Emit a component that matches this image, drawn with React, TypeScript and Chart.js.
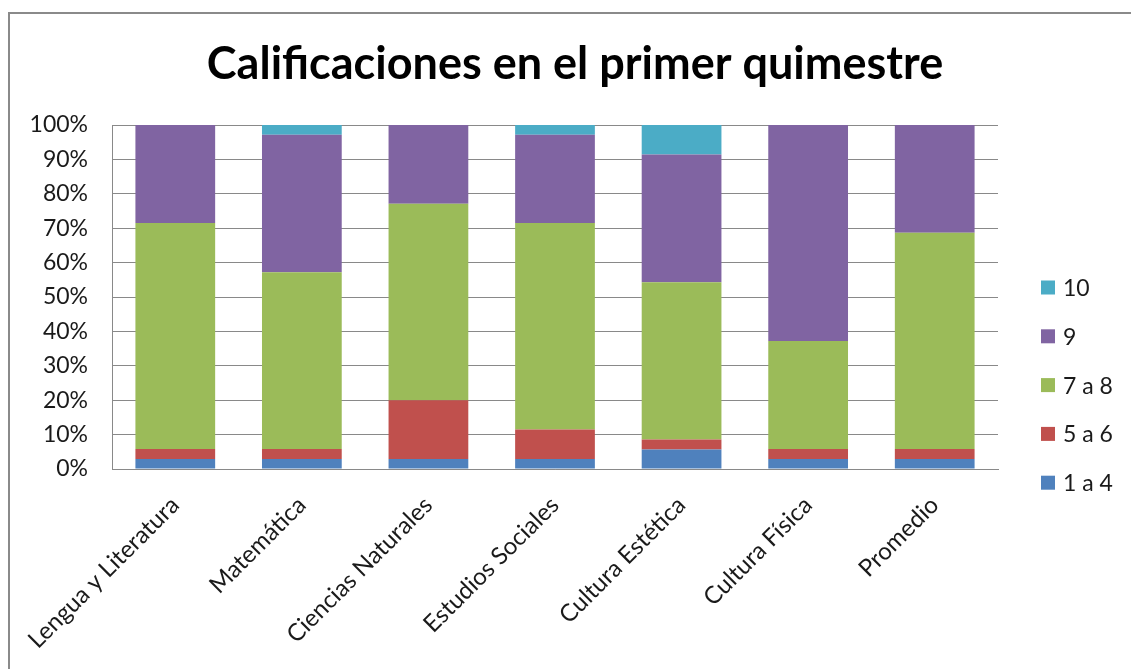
import React, { useEffect, useRef } from 'react';
import { Chart, registerables } from 'chart.js';

Chart.register(...registerables);

const categories = [
  'Lengua y Literatura',
  'Matemática',
  'Ciencias Naturales',
  'Estudios Sociales',
  'Cultura Estética',
  'Cultura Física',
  'Promedio',
];

const seriesLabels = ['1 a 4', '5 a 6', '7 a 8', '9', '10'];
const s1a4 = [2.9, 2.9, 2.9, 2.9, 5.7, 2.9, 2.9];
const s5a6 = [2.9, 2.9, 17.1, 8.6, 2.9, 2.9, 2.9];
const s7a8 = [65.7, 51.4, 57.1, 60.0, 45.7, 31.4, 62.9];
const s9 = [28.5, 40.0, 22.9, 25.7, 37.1, 62.8, 31.3];
const s10 = [0, 2.8, 0, 2.8, 8.6, 0, 0];

const yTicks = [0, 10, 20, 30, 40, 50, 60, 70, 80, 90, 100];

const colors = ['#4F81BD', '#C0504D', '#9BBB59', '#8064A2', '#4BACC6'];
const FONT = 'Lato';

const legendPlugin = {
  id: 'sideLegend',
  afterDraw(chart: any) {
    const ctx = chart.ctx;
    const ds = chart.data.datasets;
    ctx.save();
    ctx.font = `23px ${FONT}`;
    ctx.textBaseline = 'middle';
    ctx.textAlign = 'left';
    const n = ds.length;
    for (let k = 0; k < n; k++) {
      const d = ds[n - 1 - k];
      const cy = 287.5 + k * 48.8;
      ctx.fillStyle = d.backgroundColor;
      ctx.fillRect(1041, cy - 7, 14, 14);
      ctx.fillStyle = '#1a1a1a';
      ctx.fillText(d.label, 1063, cy + 1);
    }
    ctx.restore();
  },
};

export default function App() {
  const ref = useRef<HTMLCanvasElement | null>(null);

  useEffect(() => {
    if (!ref.current) return;
    const series = [s1a4, s5a6, s7a8, s9, s10];
    const chart = new Chart(ref.current, {
      type: 'bar',
      data: {
        labels: categories,
        datasets: series.map((data, i) => ({
          label: seriesLabels[i],
          data,
          backgroundColor: colors[i],
          borderWidth: 0,
          barPercentage: 0.63,
          categoryPercentage: 1,
        })),
      },
      plugins: [legendPlugin],
      options: {
        animation: false,
        responsive: false,
        maintainAspectRatio: false,
        layout: { padding: { left: 19, right: 0, top: 0, bottom: 0 } },
        plugins: {
          legend: { display: false },
          tooltip: { enabled: false },
          title: {
            display: true,
            text: 'Calificaciones en el primer quimestre',
            color: '#000',
            font: { family: FONT, size: 45, weight: 'bold' },
            padding: { top: 37, bottom: 34 },
          },
        },
        scales: {
          x: {
            stacked: true,
            grid: { display: false, drawTicks: false },
            border: { display: true, color: '#898989', width: 1 },
            ticks: {
              autoSkip: false,
              minRotation: 45,
              maxRotation: 45,
              padding: 22,
              color: '#1a1a1a',
              font: { family: FONT, size: 24 },
            },
            afterFit: (s: any) => {
              s.height = 200;
            },
          },
          y: {
            stacked: true,
            min: 0,
            max: 100,
            afterBuildTicks: (s: any) => {
              s.ticks = yTicks.map((v) => ({ value: v }));
            },
            grid: { color: '#898989', lineWidth: 1, drawTicks: false },
            border: { display: true, color: '#898989', width: 1 },
            ticks: {
              padding: 24,
              color: '#1a1a1a',
              font: { family: FONT, size: 23 },
              callback: (v: any) => `${v}%`,
            },
            afterFit: (s: any) => {
              s.width = 93;
            },
          },
          y2: {
            position: 'right',
            display: true,
            grid: { display: false, drawTicks: false },
            border: { display: false },
            ticks: { display: false },
            afterFit: (s: any) => {
              s.width = 133;
            },
          },
        },
      },
    } as any);
    return () => chart.destroy();
  }, []);

  return (
    <div
      style={{
        position: 'fixed',
        left: 0,
        top: 0,
        width: 1131,
        height: 669,
        overflow: 'hidden',
        background: '#fff',
      }}
    >
      <div
        style={{
          position: 'absolute',
          left: 8,
          top: 12,
          width: 1300,
          height: 900,
          border: '2px solid #8a8a8a',
          boxSizing: 'border-box',
        }}
      />
      <canvas
        ref={ref}
        width={1131}
        height={669}
        style={{ position: 'absolute', left: 0, top: 0, width: 1131, height: 669 }}
      />
    </div>
  );
}
